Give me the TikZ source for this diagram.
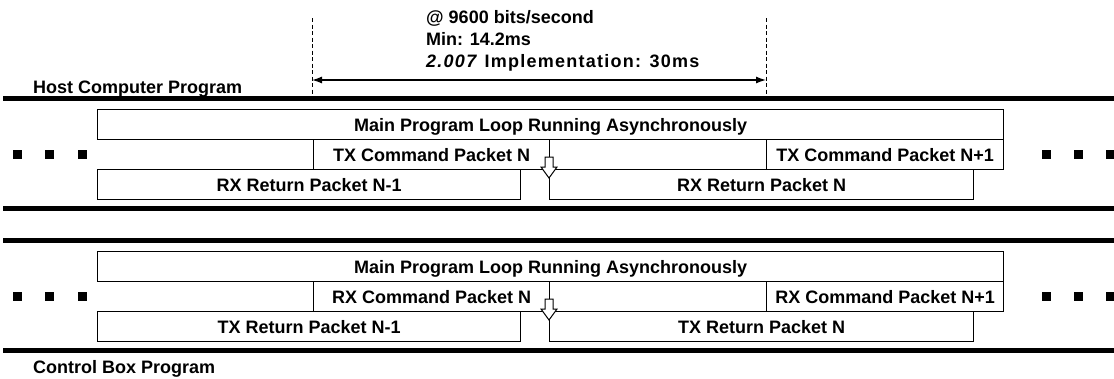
\documentclass[tikz,border=0pt]{standalone}
\usepackage{fontspec}
\setmainfont{Liberation Sans}
\usetikzlibrary{arrows.meta}
\begin{document}
\begin{tikzpicture}[x=1pt,y=-1pt,
  lbl/.style={font=\fontsize{18}{22}\selectfont\bfseries, inner sep=0pt},
  pbox/.style={draw, line width=1.3pt, rectangle, inner sep=0pt, minimum height=30pt,
    text height=13pt, text depth=0pt, font=\fontsize{18}{22}\selectfont\bfseries, anchor=north west},
  rulel/.style={line width=5pt},
  guide/.style={dash pattern=on 4pt off 2.5pt, line width=1pt},
  sq/.style={fill=black, minimum size=9pt, inner sep=0pt, rectangle},
  blockarrow/.style={fill=white, draw, line width=1pt, line join=miter},
]
\useasboundingbox (0,0) rectangle (1114,378);

% top annotation
\node[lbl, anchor=base west] (rate) at (426,23) {@ 9600 bits/second};
\node[lbl, anchor=base west] (min) at (426,45) {Min: 14.2ms};
\node[lbl, anchor=base west] (impl) at (426,67) {\addfontfeature{LetterSpace=7}\textit{2.007} Implementation: 30ms};
\coordinate (dlt) at (312,18);
\coordinate (dlb) at (312,98);
\coordinate (drt) at (766,18);
\coordinate (drb) at (766,98);
\coordinate (al) at (312,80);
\coordinate (ar) at (766,80);
\draw[guide] (dlt) -- (dlb);
\draw[guide] (drt) -- (drb);
\draw[line width=1.3pt, {Latex[length=10pt,width=7pt]}-{Latex[length=10pt,width=7pt]}] (al) -- (ar);

% host group
\node[lbl, anchor=base west] (host) at (33,93) {Host Computer Program};
\draw[rulel] (3,98) -- (1114,98);
\draw[rulel] (3,208) -- (1114,208);
\node[pbox, minimum width=906pt] (main1) at (97,109) {Main Program Loop Running Asynchronously};
\node[pbox, minimum width=236pt] (txc1) at (313,139) {TX Command Packet N};
\node[pbox, minimum width=237pt] (txd1) at (766,139) {TX Command Packet N+1};
\node[pbox, minimum width=423pt] (rxa1) at (97,169) {RX Return Packet N-1};
\node[pbox, minimum width=424pt] (rxb1) at (549,169) {RX Return Packet N};
\draw[blockarrow] (545,157) -- (553,157) -- (553,167) -- (557,167) -- (549,178) -- (541,167) -- (545,167) -- cycle;
\foreach \x in {17,49,82,1046,1078,1110} \node[sq] at (\x,154) {};

% control group
\draw[rulel] (3,240) -- (1114,240);
\draw[rulel] (3,350) -- (1114,350);
\node[pbox, minimum width=906pt] (main2) at (97,251) {Main Program Loop Running Asynchronously};
\node[pbox, minimum width=236pt] (rxc2) at (313,281) {RX Command Packet N};
\node[pbox, minimum width=237pt] (rxd2) at (766,281) {RX Command Packet N+1};
\node[pbox, minimum width=423pt] (txa2) at (97,311) {TX Return Packet N-1};
\node[pbox, minimum width=424pt] (txb2) at (549,311) {TX Return Packet N};
\draw[blockarrow] (545,299) -- (553,299) -- (553,309) -- (557,309) -- (549,320) -- (541,309) -- (545,309) -- cycle;
\foreach \x in {17,49,82,1046,1078,1110} \node[sq] at (\x,296) {};
\node[lbl, anchor=base west] (ctrl) at (33,373) {Control Box Program};
\end{tikzpicture}
\end{document}
